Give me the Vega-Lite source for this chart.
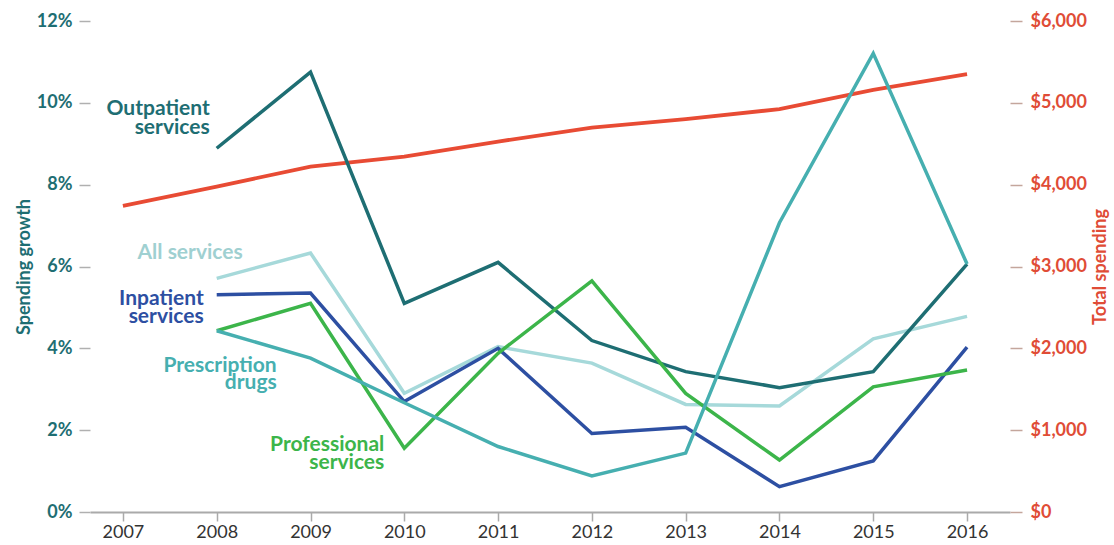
{
  "$schema": "https://vega.github.io/schema/vega-lite/v6.json",
  "width": 920,
  "height": 491,
  "autosize": {"type": "none"},
  "padding": {"left": 90, "top": 21, "right": 104, "bottom": 33},
  "background": "white",
  "config": {
    "view": {"stroke": null},
    "font": "Lato",
    "axis": {"labelFont": "Lato", "titleFont": "Lato", "grid": false},
    "text": {"font": "Lato"}
  },
  "datasets": {
    "growth": [
      {"series": "All services", "year": 2008, "growth": 5.71},
      {"series": "All services", "year": 2009, "growth": 6.33},
      {"series": "All services", "year": 2010, "growth": 2.90},
      {"series": "All services", "year": 2011, "growth": 4.04},
      {"series": "All services", "year": 2012, "growth": 3.64},
      {"series": "All services", "year": 2013, "growth": 2.63},
      {"series": "All services", "year": 2014, "growth": 2.59},
      {"series": "All services", "year": 2015, "growth": 4.23},
      {"series": "All services", "year": 2016, "growth": 4.78},
      {"series": "Inpatient services", "year": 2008, "growth": 5.31},
      {"series": "Inpatient services", "year": 2009, "growth": 5.35},
      {"series": "Inpatient services", "year": 2010, "growth": 2.70},
      {"series": "Inpatient services", "year": 2011, "growth": 4.00},
      {"series": "Inpatient services", "year": 2012, "growth": 1.92},
      {"series": "Inpatient services", "year": 2013, "growth": 2.07},
      {"series": "Inpatient services", "year": 2014, "growth": 0.62},
      {"series": "Inpatient services", "year": 2015, "growth": 1.25},
      {"series": "Inpatient services", "year": 2016, "growth": 4.03},
      {"series": "Outpatient services", "year": 2008, "growth": 8.89},
      {"series": "Outpatient services", "year": 2009, "growth": 10.75},
      {"series": "Outpatient services", "year": 2010, "growth": 5.10},
      {"series": "Outpatient services", "year": 2011, "growth": 6.10},
      {"series": "Outpatient services", "year": 2012, "growth": 4.19},
      {"series": "Outpatient services", "year": 2013, "growth": 3.43},
      {"series": "Outpatient services", "year": 2014, "growth": 3.04},
      {"series": "Outpatient services", "year": 2015, "growth": 3.43},
      {"series": "Outpatient services", "year": 2016, "growth": 6.06},
      {"series": "Professional services", "year": 2008, "growth": 4.43},
      {"series": "Professional services", "year": 2009, "growth": 5.10},
      {"series": "Professional services", "year": 2010, "growth": 1.56},
      {"series": "Professional services", "year": 2011, "growth": 3.88},
      {"series": "Professional services", "year": 2012, "growth": 5.65},
      {"series": "Professional services", "year": 2013, "growth": 2.90},
      {"series": "Professional services", "year": 2014, "growth": 1.27},
      {"series": "Professional services", "year": 2015, "growth": 3.06},
      {"series": "Professional services", "year": 2016, "growth": 3.47},
      {"series": "Prescription drugs", "year": 2008, "growth": 4.43},
      {"series": "Prescription drugs", "year": 2009, "growth": 3.76},
      {"series": "Prescription drugs", "year": 2010, "growth": 2.67},
      {"series": "Prescription drugs", "year": 2011, "growth": 1.60},
      {"series": "Prescription drugs", "year": 2012, "growth": 0.88},
      {"series": "Prescription drugs", "year": 2013, "growth": 1.44},
      {"series": "Prescription drugs", "year": 2014, "growth": 7.07},
      {"series": "Prescription drugs", "year": 2015, "growth": 11.21},
      {"series": "Prescription drugs", "year": 2016, "growth": 6.06}
    ],
    "total": [
      {"year": 2007, "spending": 3741},
      {"year": 2008, "spending": 3977},
      {"year": 2009, "spending": 4221},
      {"year": 2010, "spending": 4344},
      {"year": 2011, "spending": 4527},
      {"year": 2012, "spending": 4698},
      {"year": 2013, "spending": 4801},
      {"year": 2014, "spending": 4923},
      {"year": 2015, "spending": 5159},
      {"year": 2016, "spending": 5351}
    ]
  },
  "encoding": {
    "x": {
      "field": "year",
      "type": "quantitative",
      "scale": {"domain": [2006.649, 2016.458], "nice": false, "zero": false},
      "axis": {
        "orient": "bottom",
        "values": [2007, 2008, 2009, 2010, 2011, 2012, 2013, 2014, 2015, 2016],
        "format": "d",
        "title": null,
        "labelFontSize": 18,
        "labelColor": "#333333",
        "labelPadding": 2,
        "tickSize": 9,
        "tickWidth": 1.5,
        "tickColor": "#aaaaaa",
        "domainColor": "#aaaaaa",
        "domainWidth": 2
      }
    }
  },
  "layer": [
    {
      "data": {"name": "total"},
      "mark": {"type": "line", "color": "#e84b34", "strokeWidth": 3.8},
      "encoding": {
        "y": {
          "field": "spending",
          "type": "quantitative",
          "scale": {"domain": [0, 6000], "nice": false},
          "axis": {
            "orient": "right",
            "values": [0, 1000, 2000, 3000, 4000, 5000, 6000],
            "format": "$,.0f",
            "domain": false,
            "tickSize": 12,
            "tickWidth": 1.5,
            "tickColor": "#c4a69c",
            "labelPadding": 8,
            "labelFontSize": 18,
            "labelFontWeight": "bold",
            "labelColor": "#e04c36",
            "title": "Total spending",
            "titleAngle": 270,
            "titleBaseline": "top",
            "titlePadding": 5,
            "titleFontSize": 18,
            "titleFontWeight": "bold",
            "titleColor": "#e04c36"
          }
        }
      }
    },
    {
      "data": {"name": "growth"},
      "encoding": {
        "y": {
          "field": "growth",
          "type": "quantitative",
          "scale": {"domain": [0, 12], "nice": false},
          "axis": {
            "orient": "left",
            "values": [0, 2, 4, 6, 8, 10, 12],
            "labelExpr": "datum.value + '%'",
            "domain": false,
            "tickSize": 11,
            "tickWidth": 1.5,
            "tickColor": "#b0b0b0",
            "labelPadding": 7,
            "labelFontSize": 18,
            "labelFontWeight": "bold",
            "labelColor": "#1e6e73",
            "title": "Spending growth",
            "titlePadding": 3,
            "titleFontSize": 18,
            "titleFontWeight": "bold",
            "titleColor": "#1e6e73"
          }
        }
      },
      "layer": [
        {
          "mark": {"type": "line", "strokeWidth": 3.5},
          "encoding": {
            "color": {
              "field": "series",
              "type": "nominal",
              "legend": null,
              "scale": {
                "domain": ["All services", "Inpatient services", "Outpatient services", "Professional services", "Prescription drugs"],
                "range": ["#a6d9da", "#2d4fa2", "#1e6e73", "#3cb54a", "#46afb0"]
              }
            }
          }
        },
        {
          "transform": [{"filter": "datum.series === 'Outpatient services' && datum.year === 2008"}],
          "mark": {"type": "text", "align": "right", "baseline": "alphabetic", "dx": -7, "dy": -33, "lineBreak": " ", "lineHeight": 18.5, "fontSize": 21, "fontWeight": "bold", "color": "#1e6e73"},
          "encoding": {"text": {"field": "series"}}
        },
        {
          "transform": [{"filter": "datum.series === 'All services' && datum.year === 2008"}],
          "mark": {"type": "text", "align": "right", "baseline": "alphabetic", "dx": 26, "dy": -19, "fontSize": 21, "fontWeight": "bold", "color": "#9fd0d1"},
          "encoding": {"text": {"field": "series"}}
        },
        {
          "transform": [{"filter": "datum.series === 'Inpatient services' && datum.year === 2008"}],
          "mark": {"type": "text", "align": "right", "baseline": "alphabetic", "dx": -13, "dy": 10, "lineBreak": " ", "lineHeight": 18, "fontSize": 21, "fontWeight": "bold", "color": "#2d4fa2"},
          "encoding": {"text": {"field": "series"}}
        },
        {
          "transform": [{"filter": "datum.series === 'Prescription drugs' && datum.year === 2008"}],
          "mark": {"type": "text", "align": "right", "baseline": "alphabetic", "dx": 60, "dy": 41, "lineBreak": " ", "lineHeight": 17.6, "fontSize": 21, "fontWeight": "bold", "color": "#46afb0"},
          "encoding": {"text": {"field": "series"}}
        },
        {
          "transform": [{"filter": "datum.series === 'Professional services' && datum.year === 2010"}],
          "mark": {"type": "text", "align": "right", "baseline": "alphabetic", "dx": -20, "dy": 3, "lineBreak": " ", "lineHeight": 17.6, "fontSize": 21, "fontWeight": "bold", "color": "#3cb54a"},
          "encoding": {"text": {"field": "series"}}
        }
      ]
    }
  ],
  "resolve": {"scale": {"y": "independent"}, "axis": {"y": "independent"}}
}
